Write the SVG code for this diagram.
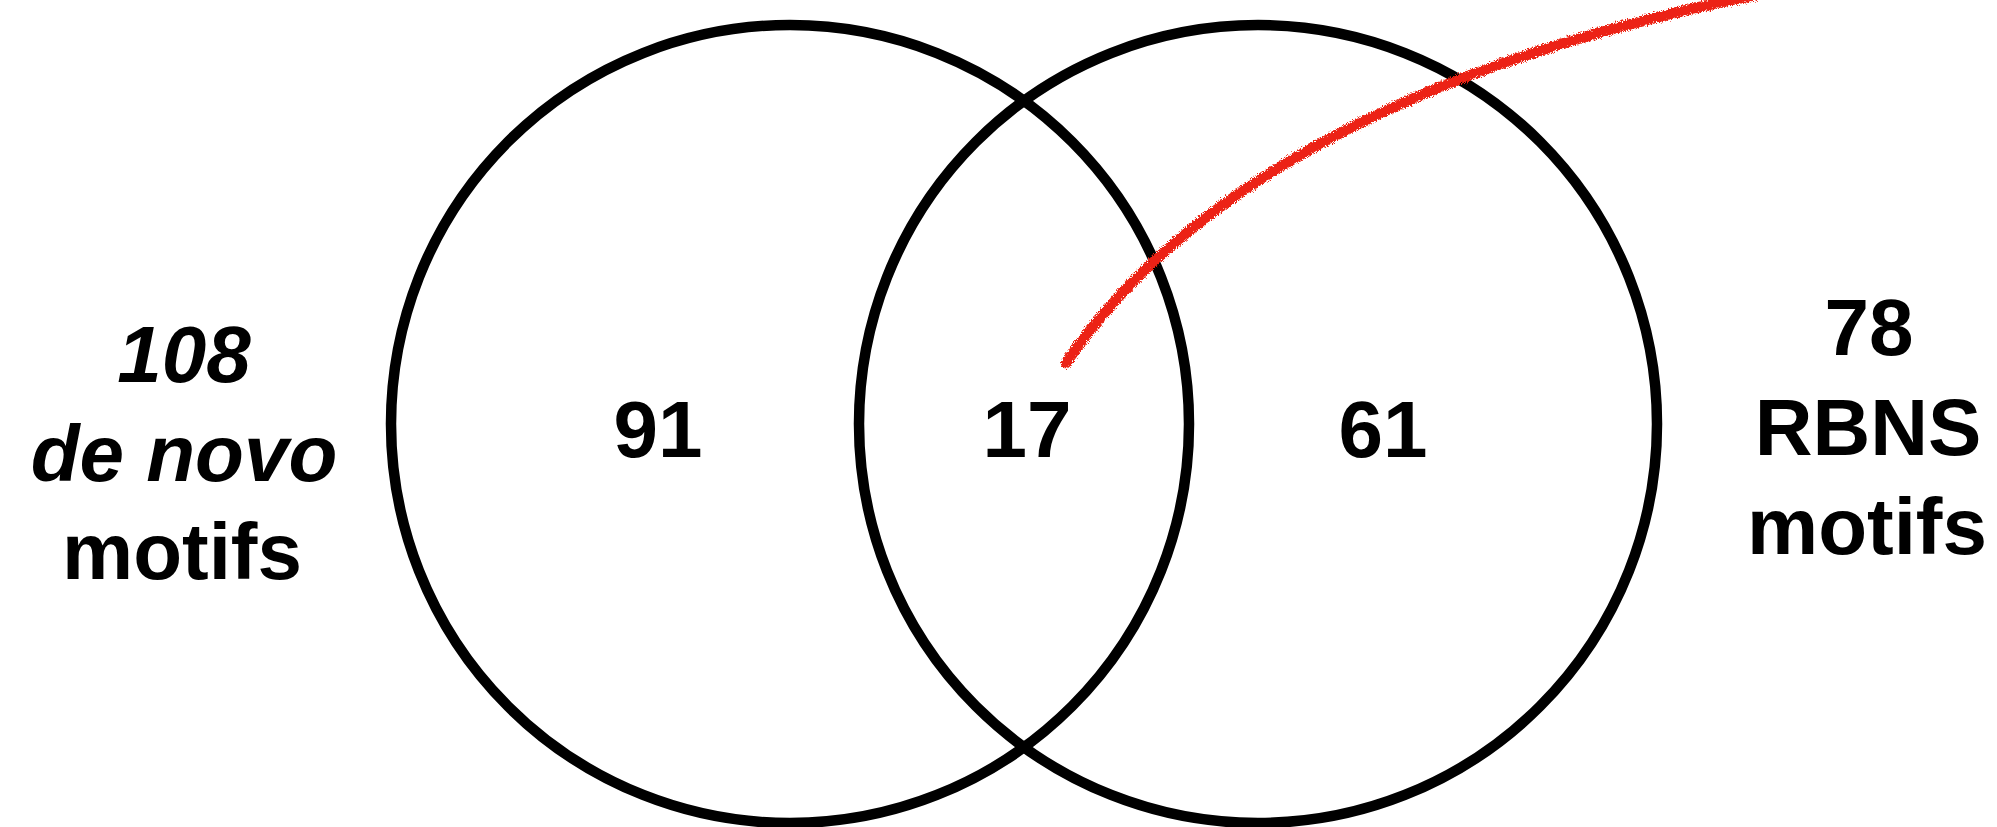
<svg xmlns="http://www.w3.org/2000/svg" width="1997" height="827" viewBox="0 0 1997 827">
  <style>
    .ring { fill: none; stroke: #000; stroke-width: 10.5; }
    .lbl { font-family: "Liberation Sans", Arial, Helvetica, sans-serif; font-weight: bold; font-size: 80px; fill: #000; text-anchor: middle; }
    .it { font-style: italic; }
  </style>
  <defs>
    <filter id="crayon" x="-10%" y="-10%" width="120%" height="120%">
      <feTurbulence type="fractalNoise" baseFrequency="1.2" numOctaves="2" seed="5" result="n"/>
      <feDisplacementMap in="SourceGraphic" in2="n" scale="7" xChannelSelector="R" yChannelSelector="G"/>
    </filter>
  </defs>
  <rect width="1997" height="827" fill="#fff"/>
  <g id="set-denovo">
    <circle class="ring" cx="790" cy="424" r="399"/>
  </g>
  <g id="set-rbns">
    <circle class="ring" cx="1258" cy="424" r="399"/>
  </g>
  <g id="region-left"><text class="lbl" x="658" y="457">91</text></g>
  <g id="region-overlap"><text class="lbl" x="1027" y="457">17</text></g>
  <g id="region-right"><text class="lbl" x="1383" y="457">61</text></g>
  <g id="label-denovo">
    <text class="lbl it" x="184" y="382">108</text>
    <text class="lbl it" x="184" y="481">de novo</text>
    <text class="lbl" x="182" y="579">motifs</text>
  </g>
  <g id="label-rbns">
    <text class="lbl" x="1869" y="355">78</text>
    <text class="lbl" x="1868" y="455">RBNS</text>
    <text class="lbl" x="1867" y="554">motifs</text>
  </g>
  <g id="connectors">
    <path d="M1066,363 C1170,210 1380,70 1760,-6" fill="none" stroke="#EC2312" stroke-width="10.5" stroke-linecap="round" filter="url(#crayon)"/>
  </g>
</svg>
